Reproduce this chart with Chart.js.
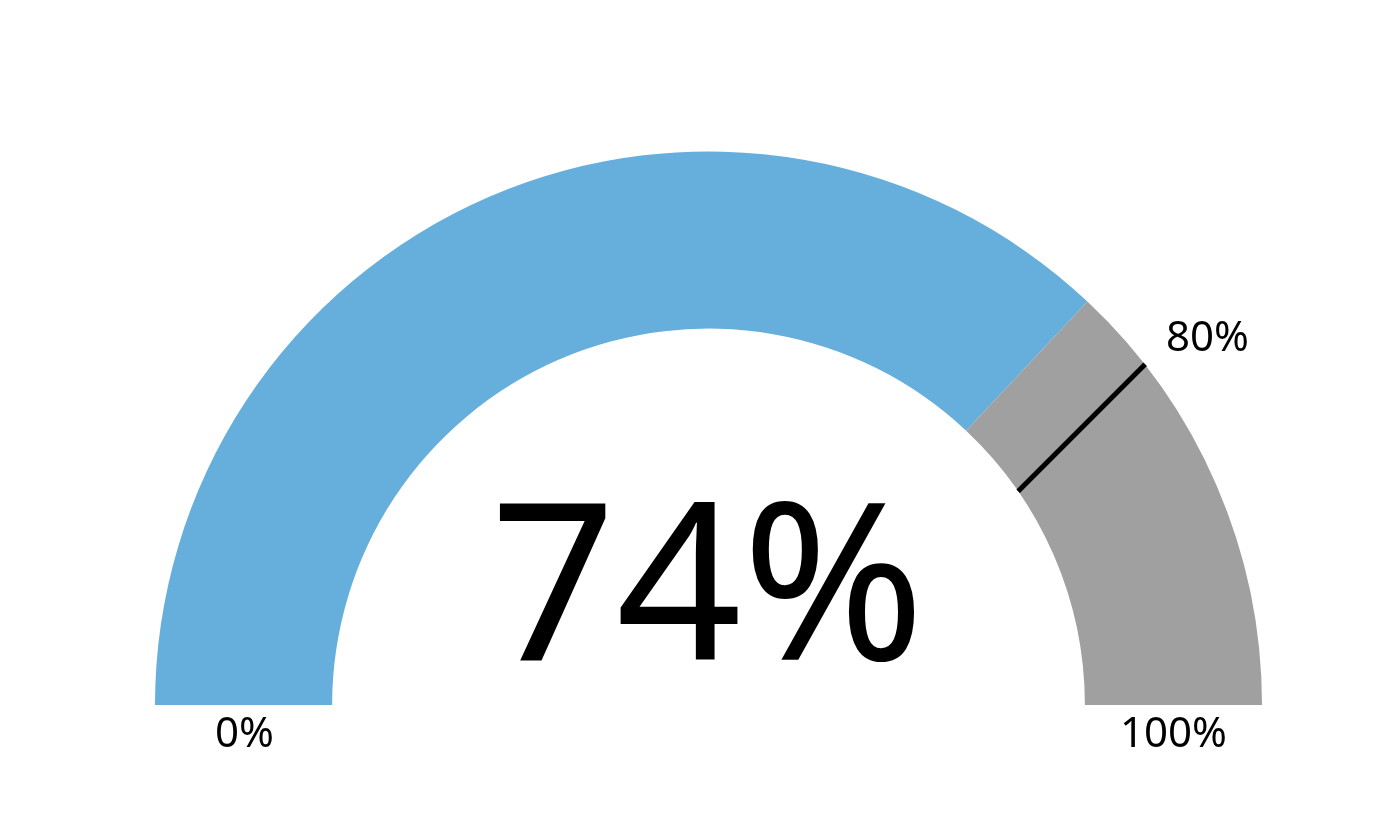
<!DOCTYPE html>
<html>
<head>
<meta charset="utf-8">
<script src="https://cdn.jsdelivr.net/npm/chart.js@4/dist/chart.umd.min.js"></script>
<style>
  html, body { margin: 0; padding: 0; background: #ffffff; }
  #wrap { width: 1376px; height: 830px; position: relative; }
</style>
</head>
<body>
<div id="wrap"><canvas id="c" width="1376" height="830"></canvas></div>
<script>
// ---- data ----
const categories = ["Value", "Remaining"];
const gaugeValue = 74;
const gaugeMin = 0;
const gaugeMax = 100;
const thresholdValue = 80;
const tickLabels = ["0%", "100%"];
const thresholdLabel = "80%";
const centerLabel = gaugeValue + "%";

const seriesValues = [gaugeValue - gaugeMin, gaugeMax - gaugeValue];

const FONT = '"Noto Sans", "Open Sans", sans-serif';

const gaugePlugin = {
  id: 'gaugeOverlay',
  afterDatasetsDraw(chart) {
    const meta = chart.getDatasetMeta(0);
    const arc = meta.data[0];
    if (!arc) return;
    const cx = arc.x, cy = arc.y;
    const R = arc.outerRadius, r = arc.innerRadius;
    const ctx = chart.ctx;
    ctx.save();

    // threshold marker
    const frac = (thresholdValue - gaugeMin) / (gaugeMax - gaugeMin);
    const th = -Math.PI + frac * Math.PI;
    const rm = (R + r) / 2;
    const mx = cx + Math.cos(th) * rm - 3;
    const my = cy + Math.sin(th) * rm - 4;
    const half = (R - r) * 0.507;
    const dir = -Math.PI / 4;
    ctx.strokeStyle = '#000000';
    ctx.lineWidth = 5;
    ctx.lineCap = 'butt';
    ctx.beginPath();
    ctx.moveTo(mx - Math.cos(dir) * half, my - Math.sin(dir) * half);
    ctx.lineTo(mx + Math.cos(dir) * half, my + Math.sin(dir) * half);
    ctx.stroke();

    // labels
    ctx.fillStyle = '#000000';
    ctx.textAlign = 'center';
    ctx.textBaseline = 'alphabetic';
    ctx.font = '42px ' + FONT;
    ctx.fillText(tickLabels[0], cx - rm + 1, cy + 42);
    ctx.fillText(tickLabels[1], cx + rm, cy + 42);
    const rl = R * 1.123;
    ctx.fillText(thresholdLabel, cx + Math.cos(th) * rl - 4, cy + Math.sin(th) * rl + 11);

    ctx.font = '220px ' + FONT;
    ctx.fillText(centerLabel, cx - 1, cy - 45);
    ctx.restore();
  }
};

new Chart(document.getElementById('c'), {
  type: 'doughnut',
  data: {
    labels: categories,
    datasets: [{
      data: seriesValues,
      backgroundColor: ['#66AFDC', '#A0A0A0'],
      borderWidth: 0,
      hoverOffset: 0,
      offset: 0
    }]
  },
  options: {
    responsive: false,
    animation: false,
    events: [],
    rotation: -90,
    circumference: 180,
    cutout: '68%',
    layout: { padding: { left: 155, right: 114, top: 151.5, bottom: 125 } },
    plugins: {
      legend: { display: false },
      tooltip: { enabled: false }
    }
  },
  plugins: [gaugePlugin]
});
</script>
</body>
</html>
